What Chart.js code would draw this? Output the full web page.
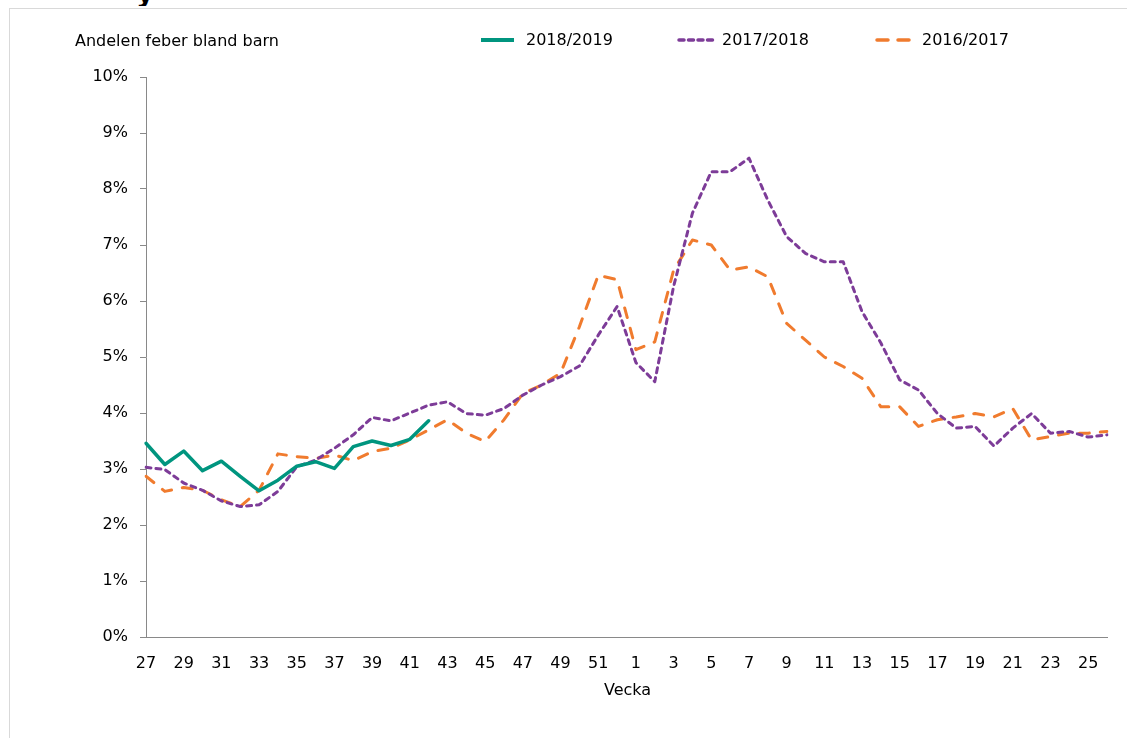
<!DOCTYPE html>
<html>
<head>
<meta charset="utf-8">
<script src="https://cdn.jsdelivr.net/npm/chart.js@4/dist/chart.umd.min.js"></script>
<style>
  html, body { margin: 0; padding: 0; background: #fff; }
  body { width: 1127px; height: 738px; position: relative; overflow: hidden;
         font-family: "DejaVu Sans", sans-serif; font-size: 16px; color: #000; }
  #frame { position: absolute; left: 9px; top: 8px; width: 1200px; height: 800px;
           border-left: 1px solid #d9d9d9; border-top: 1px solid #d9d9d9; }
  #cut { position: absolute; left: 136px; top: 0; height: 6px; width: 20px; overflow: hidden; }
  #cut span { position: absolute; left: 0; top: -24px; font: bold 28px "DejaVu Sans", sans-serif; }
  canvas { position: absolute; left: 0; top: 0; }
  .txt { position: absolute; white-space: nowrap; line-height: 20px; }
  .leg svg { position: absolute; }
</style>
</head>
<body>
<div id="frame"></div>
<div id="cut"><span>y</span></div>
<canvas id="feberChart" width="1127" height="738"></canvas>
<div class="txt" style="left:75px; top:31px;">Andelen feber bland barn</div>
<div class="leg">
  <svg style="left:480px; top:36px;" width="36" height="8"><line x1="1" y1="4" x2="34" y2="4" stroke="#00957f" stroke-width="4"/></svg>
  <div class="txt" style="left:526px; top:30px;">2018/2019</div>
  <svg style="left:677px; top:36px;" width="40" height="8"><line x1="2" y1="4" x2="38" y2="4" stroke="#7d3c98" stroke-width="3.5" stroke-dasharray="5 4.5" stroke-linecap="round"/></svg>
  <div class="txt" style="left:722px; top:30px;">2017/2018</div>
  <svg style="left:875px; top:36px;" width="40" height="8"><line x1="2" y1="4" x2="36" y2="4" stroke="#f07b2e" stroke-width="3.5" stroke-dasharray="11 10" stroke-linecap="round"/></svg>
  <div class="txt" style="left:922px; top:30px;">2016/2017</div>
</div>
<div class="txt" style="left:604px; top:680px;">Vecka</div>

<script>
const veckor = [27, 28, 29, 30, 31, 32, 33, 34, 35, 36, 37, 38, 39, 40, 41, 42, 43, 44, 45, 46, 47, 48, 49, 50, 51, 52,
  1, 2, 3, 4, 5, 6, 7, 8, 9, 10, 11, 12, 13, 14, 15, 16, 17, 18, 19, 20, 21, 22, 23, 24, 25, 26];

const sasong1819 = [3.46, 3.08, 3.32, 2.97, 3.14, 2.87, 2.61, 2.80, 3.05, 3.13, 3.01, 3.40, 3.50, 3.42, 3.53, 3.86];

const sasong1718 = [3.03, 2.99, 2.75, 2.62, 2.43, 2.33, 2.36, 2.60, 3.04, 3.16, 3.37, 3.61, 3.92, 3.86, 4.00, 4.14,
  4.20, 3.99, 3.96, 4.08, 4.32, 4.50, 4.65, 4.84, 5.39, 5.90,
  4.90, 4.56, 6.26, 7.57, 8.31, 8.31, 8.55, 7.80, 7.15, 6.85, 6.70, 6.70, 5.81, 5.25, 4.59, 4.41,
  3.99, 3.73, 3.76, 3.41, 3.73, 3.99, 3.64, 3.67, 3.57, 3.61];

const sasong1617 = [2.87, 2.60, 2.67, 2.62, 2.45, 2.33, 2.62, 3.27, 3.22, 3.19, 3.25, 3.15, 3.31, 3.37, 3.52, 3.70,
  3.88, 3.64, 3.49, 3.88, 4.35, 4.50, 4.71, 5.54, 6.46, 6.38,
  5.13, 5.27, 6.55, 7.09, 7.00, 6.55, 6.61, 6.43, 5.60, 5.30, 5.00, 4.83, 4.62, 4.11, 4.11, 3.76,
  3.88, 3.93, 3.99, 3.93, 4.08, 3.52, 3.58, 3.64, 3.64, 3.67];

const yTicks = [0, 1, 2, 3, 4, 5, 6, 7, 8, 9, 10];

const axisColor = '#898989';
const tickFont = { family: 'DejaVu Sans', size: 16 };

const ctx = document.getElementById('feberChart').getContext('2d');
new Chart(ctx, {
  type: 'line',
  data: {
    labels: veckor,
    datasets: [
      {
        label: '2018/2019',
        data: sasong1819,
        borderColor: '#00957f',
        borderWidth: 3.5,
        pointRadius: 0,
        tension: 0,
        borderJoinStyle: 'round',
        borderCapStyle: 'round'
      },
      {
        label: '2017/2018',
        data: sasong1718,
        borderColor: '#7d3c98',
        borderWidth: 3,
        borderDash: [5, 5],
        borderCapStyle: 'round',
        borderJoinStyle: 'round',
        pointRadius: 0,
        tension: 0
      },
      {
        label: '2016/2017',
        data: sasong1617,
        borderColor: '#f07b2e',
        borderWidth: 3,
        borderDash: [10, 11],
        borderCapStyle: 'round',
        borderJoinStyle: 'round',
        pointRadius: 0,
        tension: 0
      }
    ]
  },
  options: {
    responsive: false,
    animation: false,
    layout: { padding: { left: 0, right: 20, top: 77, bottom: 0 } },
    plugins: { legend: { display: false }, tooltip: { enabled: false } },
    scales: {
      x: {
        offset: false,
        grid: { display: false, drawOnChartArea: false, drawTicks: true, tickLength: 6, tickColor: axisColor },
        border: { color: axisColor, width: 1 },
        ticks: {
          autoSkip: false,
          maxRotation: 0,
          color: '#000',
          font: tickFont,
          padding: 11,
          callback: (v, i) => i % 2 === 0 ? veckor[i] : ''
        },
        afterFit: s => { s.height = 101; }
      },
      y: {
        min: 0,
        max: 10,
        afterBuildTicks: s => { s.ticks = yTicks.map(v => ({ value: v })); },
        grid: { display: true, drawOnChartArea: false, drawTicks: true, tickLength: 6, tickColor: axisColor },
        border: { color: axisColor, width: 1 },
        ticks: {
          color: '#000',
          font: tickFont,
          padding: 12,
          callback: v => v + '%'
        },
        afterFit: s => { s.width = 146; }
      }
    }
  }
});
</script>
</body>
</html>
